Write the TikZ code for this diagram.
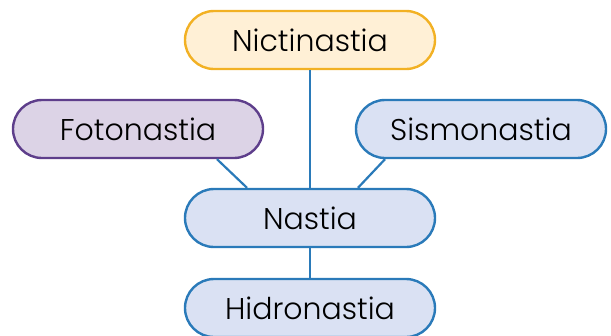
\documentclass[tikz,border=0pt]{standalone}
\usepackage{fontspec}
\setmainfont{Poppins}[UprightFont=* Light]
\usetikzlibrary{shapes.misc}
\definecolor{bluefill}{HTML}{DAE1F3}
\definecolor{blueline}{HTML}{2A7AB9}
\definecolor{orfill}{HTML}{FFF0D6}
\definecolor{orline}{HTML}{F2B124}
\definecolor{pufill}{HTML}{DCD3E6}
\definecolor{puline}{HTML}{5E3E8B}
\tikzset{
  pill/.style={rounded rectangle, minimum width=250pt, minimum height=58pt, line width=2.4pt,
    font=\fontsize{30}{34}\selectfont, text=black, inner sep=0pt},
  bluepill/.style={pill, draw=blueline, fill=bluefill},
  orpill/.style={pill, draw=orline, fill=orfill},
  pupill/.style={pill, draw=puline, fill=pufill},
  conn/.style={draw=blueline, line width=2.2pt}
}
\begin{document}
\begin{tikzpicture}[x=1pt,y=-1pt]
\useasboundingbox (0,0) rectangle (611,335);
\clip (0,0) rectangle (611,335);
\node[orpill] (nic) at (310,40) {Nictinastia};
\node[pupill] (fot) at (138,129) {Fotonastia};
\node[bluepill] (sis) at (481,129) {Sismonastia};
\node[bluepill] (nas) at (310,218) {Nastia};
\node[bluepill] (hid) at (310,308) {Hidronastia};
\draw[conn] (nic.south) -- (nas.north);
\draw[conn] ([xshift=79pt]fot.south) -- ([xshift=-63pt]nas.north);
\draw[conn] ([xshift=-96pt]sis.south) -- ([xshift=48pt]nas.north);
\draw[conn] (nas.south) -- (hid.north);
\end{tikzpicture}
\end{document}
